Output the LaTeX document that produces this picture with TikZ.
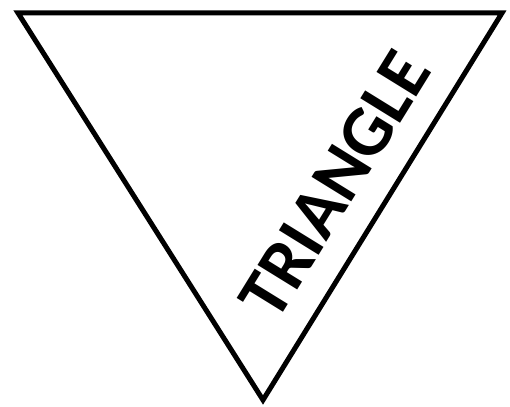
\documentclass[tikz,border=0pt]{standalone}
\usepackage{fontspec}
\setmainfont{Carlito}
\usetikzlibrary{positioning}

\begin{document}
\begin{tikzpicture}[x=1pt,y=1pt,edge/.style={line width=5pt,line join=miter},label/.style={font=\fontsize{72}{72}\selectfont\bfseries,inner sep=0pt}]
\useasboundingbox (0,0) rectangle (510,406);
\coordinate (tl) at (18,393);
\coordinate (tr) at (502,393);
\coordinate (bot) at (263,6);
\draw[edge] (tl)--(tr)--(bot)--cycle;
\node[label,rotate=58.3] (name) at (335,221) {TRIANGLE};
\end{tikzpicture}
\end{document}
